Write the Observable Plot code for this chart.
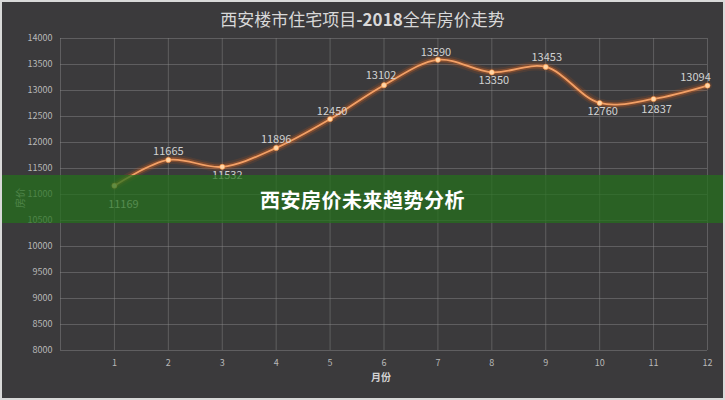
<!DOCTYPE html>
<html>
<head>
<meta charset="utf-8">
<script src="https://cdn.jsdelivr.net/npm/d3@7"></script>
<script src="https://cdn.jsdelivr.net/npm/@observablehq/plot@0.6"></script>
<style>
  html, body { margin: 0; padding: 0; background: #3b3a3c; }
  #wrap { position: relative; width: 725px; height: 400px; background: #3b3a3c; overflow: hidden;
          font-family: "Noto Sans CJK SC", "Noto Sans", sans-serif; }
  #wrap svg { position: absolute; left: 0; top: 0; }
  #title { position: absolute; left: 0; width: 725px; top: 7px; text-align: center; color: #d8d8d8;
           font-size: 17px; line-height: 24px; }
  #title b { font-weight: 700; }
  #xlabel { position: absolute; left: 371px; top: 369px; color: #d4d4d4; font-size: 10px; font-weight: 700; line-height: 16px; }
  #ylabel { position: absolute; left: 6px; top: 187px; color: #bdbdbd; font-size: 10px; line-height: 14px;
            transform: rotate(-90deg); transform-origin: 14px 7px; }
  #banner { position: absolute; left: 0; top: 175px; width: 725px; height: 48px; background: rgba(36,112,28,0.72);
            display: flex; align-items: center; justify-content: center; color: #fff; font-weight: 700;
            font-size: 20px; letter-spacing: 0.5px; }
  #border { position: absolute; left: 0; top: 0; width: 725px; height: 400px; box-shadow: inset 0 0 0 2px #d9d9d9; pointer-events: none; }
</style>
</head>
<body>
<div id="wrap">
  <div id="chart"></div>
  <div id="title">西安楼市住宅项目<b>-2018</b>全年房价走势</div>
  <div id="xlabel">月份</div>
  <div id="ylabel">房价</div>
  <div id="banner">西安房价未来趋势分析</div>
  <div id="border"></div>
</div>
<script>
const months = [1, 2, 3, 4, 5, 6, 7, 8, 9, 10, 11, 12];
const prices = [11169, 11665, 11532, 11896, 12450, 13102, 13590, 13350, 13453, 12760, 12837, 13094];
const yTicks = [8000, 8500, 9000, 9500, 10000, 10500, 11000, 11500, 12000, 12500, 13000, 13500, 14000];
const xTicks = months;

const data = months.map((m, i) => ({month: m, price: prices[i]}));

// label offsets (style only)
const labelOffsets = [[9, 19], [0, -8], [5, 9], [0, -8], [2, -8], [-3, -10], [-2, -7], [2, 8], [1, -9], [3, 8], [3, 10], [-12, -8]];

const labelMarks = data.map((d, i) => Plot.text([d], {
  x: "month", y: "price", text: d => String(d.price),
  dx: labelOffsets[i][0], dy: labelOffsets[i][1],
  fill: "#d2d2d2", fontSize: 11, lineAnchor: "middle"
}));

const chart = Plot.plot({
  width: 725, height: 400,
  marginLeft: 60, marginRight: 18, marginTop: 38, marginBottom: 50,
  style: {background: "transparent", color: "#b8b8b8", fontSize: "9px", fontFamily: "'Noto Sans CJK SC', 'Noto Sans', sans-serif"},
  x: {domain: [0, 12], ticks: xTicks, tickSize: 0, tickPadding: 9, label: null},
  y: {domain: [8000, 14000], ticks: yTicks, tickSize: 0, tickPadding: 8, label: null, tickFormat: d => String(d)},
  marks: [
    Plot.ruleY(yTicks, {stroke: "#8c8c8c", strokeOpacity: 0.45}),
    Plot.ruleX([0, ...xTicks], {y1: 8000, y2: 14000, stroke: "#8c8c8c", strokeOpacity: 0.45}),
    Plot.line(data, {x: "month", y: "price", curve: "catmull-rom", stroke: "#e8621a", strokeWidth: 9, strokeOpacity: 0.12}),
    Plot.line(data, {x: "month", y: "price", curve: "catmull-rom", stroke: "#f06e22", strokeWidth: 5, strokeOpacity: 0.3}),
    Plot.line(data, {x: "month", y: "price", curve: "catmull-rom", stroke: "#f3a066", strokeWidth: 1.8}),
    Plot.dot(data, {x: "month", y: "price", r: 2.6, fill: "#ffd6a8", stroke: "#ff8a30", strokeWidth: 1, strokeOpacity: 0.5}),
    ...labelMarks
  ]
});
document.getElementById("chart").appendChild(chart);
</script>
</body>
</html>
